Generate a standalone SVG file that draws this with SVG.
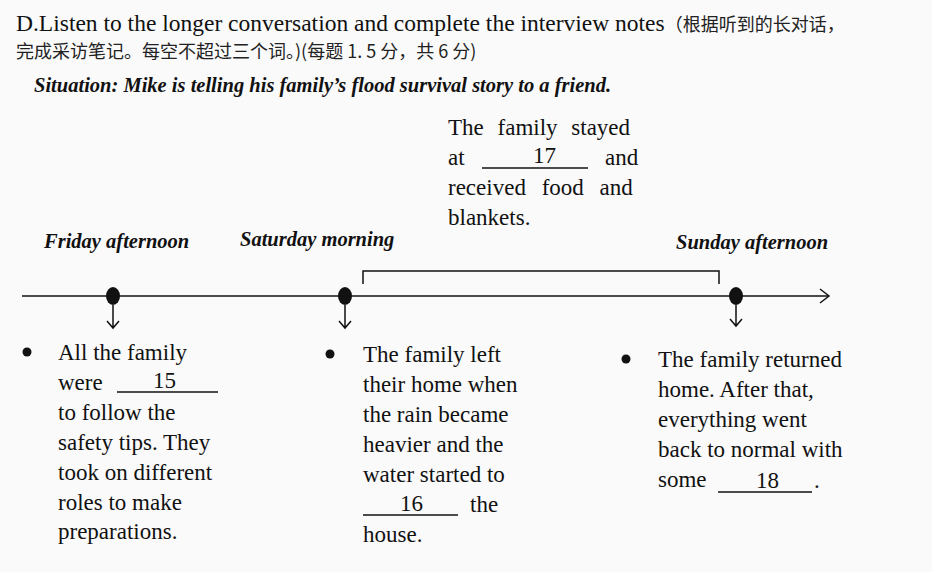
<svg xmlns="http://www.w3.org/2000/svg" width="932" height="572" viewBox="0 0 932 572">
<style>
.t{font-family:"Liberation Serif","Noto Sans CJK SC",serif;font-size:23px;fill:#111}
.h{font-family:"Liberation Serif","Noto Sans CJK SC",serif;font-size:23.5px;fill:#111}
.c{font-family:"Noto Sans CJK SC",serif;font-size:18px;fill:#222}
.l{font-family:"Liberation Serif",serif;font-size:20.5px;font-weight:bold;font-style:italic;fill:#111}
.ln{stroke:#111;stroke-width:1.5;fill:none}
</style>
<rect width="932" height="572" fill="#fafafa"/>
<g id="header">
<text class="h" x="16" y="31">D.Listen to the longer conversation and complete the interview notes<tspan class="c">（根据听到的长对话，</tspan></text>
<text class="c" x="16" y="58">完成采访笔记。每空不超过三个词。)(每题 1. 5 分，共 6 分)</text>
<text class="l" x="34" y="92">Situation: Mike is telling his family’s flood survival story to a friend.</text>
</g>
<g id="connectors">
<line class="ln" x1="22" y1="296" x2="828" y2="296" stroke-width="2.5"/>
<path class="ln" d="M820 289 L829 296 L820 303" stroke-width="2"/>
<path class="ln" d="M363 284 V271 H719 V284"/>
<path class="ln" d="M113 305 V328 M107 321 L113 328 L119 321"/>
<path class="ln" d="M345 305 V328 M339 321 L345 328 L351 321"/>
<path class="ln" d="M736 305 V326 M730 319 L736 326 L742 319"/>
</g>
<g id="dots" fill="#111">
<ellipse cx="113" cy="296" rx="7" ry="9"/>
<ellipse cx="345" cy="296" rx="7" ry="9"/>
<ellipse cx="736" cy="296" rx="7" ry="9"/>
</g>
<g id="labels">
<text class="l" x="44" y="248">Friday afternoon</text>
<text class="l" x="240" y="246">Saturday morning</text>
<text class="l" x="676" y="249">Sunday afternoon</text>
</g>
<g id="top-note">
<text class="t" x="448" y="135" word-spacing="8">The family stayed</text>
<text class="t" x="448" y="165">at</text>
<line class="ln" x1="482" y1="168" x2="588" y2="168" stroke-width="1"/>
<text class="t" x="533" y="163">17</text>
<text class="t" x="605" y="165">and</text>
<text class="t" x="448" y="195" word-spacing="10">received food and</text>
<text class="t" x="448" y="225">blankets.</text>
</g>
<g id="friday">
<circle cx="27" cy="352" r="4.5" fill="#111"/>
<text class="t" x="58" y="360">All the family</text>
<text class="t" x="58" y="390">were</text>
<line class="ln" x1="117" y1="392" x2="218" y2="392" stroke-width="1"/>
<text class="t" x="153" y="388">15</text>
<text class="t" x="58" y="420">to follow the</text>
<text class="t" x="58" y="450">safety tips. They</text>
<text class="t" x="58" y="480">took on different</text>
<text class="t" x="58" y="510">roles to make</text>
<text class="t" x="58" y="539">preparations.</text>
</g>
<g id="saturday">
<circle cx="330" cy="354" r="4.5" fill="#111"/>
<text class="t" x="363" y="362">The family left</text>
<text class="t" x="363" y="392">their home when</text>
<text class="t" x="363" y="422">the rain became</text>
<text class="t" x="363" y="452">heavier and the</text>
<text class="t" x="363" y="482">water started to</text>
<line class="ln" x1="363" y1="515" x2="458" y2="515" stroke-width="1"/>
<text class="t" x="400" y="511">16</text>
<text class="t" x="470" y="512">the</text>
<text class="t" x="363" y="542">house.</text>
</g>
<g id="sunday">
<circle cx="626" cy="359" r="4.5" fill="#111"/>
<text class="t" x="658" y="367">The family returned</text>
<text class="t" x="658" y="397">home. After that,</text>
<text class="t" x="658" y="427">everything went</text>
<text class="t" x="658" y="457">back to normal with</text>
<text class="t" x="658" y="487">some</text>
<line class="ln" x1="718" y1="492" x2="812" y2="492" stroke-width="1"/>
<text class="t" x="756" y="488">18</text>
<text class="t" x="814" y="488">.</text>
</g>
</svg>
